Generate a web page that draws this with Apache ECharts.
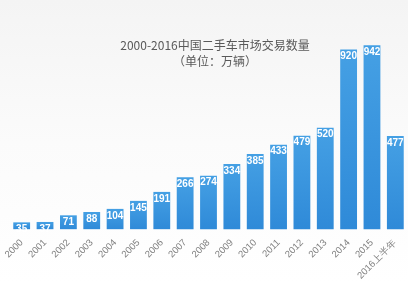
<!DOCTYPE html>
<html><head><meta charset="utf-8">
<script src="https://cdn.jsdelivr.net/npm/echarts@6/dist/echarts.min.js"></script>
<style>html,body{margin:0;padding:0;}#c{width:408px;height:283px;}</style>
</head><body><div id="c"></div>
<script>
const categories = ['2000','2001','2002','2003','2004','2005','2006','2007','2008','2009','2010','2011','2012','2013','2014','2015','2016上半年'];
const values = [35,37,71,88,104,145,191,266,274,334,385,433,479,520,920,942,477];
const titleText = '2000-2016中国二手车市场交易数量';
const subText = '（单位：万辆）';

const chart = echarts.init(document.getElementById('c'));
chart.setOption({
  backgroundColor: new echarts.graphic.LinearGradient(0,0,0,1,[
    {offset:0,color:'#f4f4f4'},{offset:0.5,color:'#fbfbfb'},{offset:1,color:'#ffffff'}]),
  title: {
    text: titleText, subtext: subText, left: 210, textAlign: 'center', top: 34, itemGap: 4,
    textStyle: {color:'#595959', fontSize: 12, fontWeight: 'normal', fontFamily: 'Noto Sans CJK SC'},
    subtextStyle: {color:'#595959', fontSize: 12, fontFamily: 'Noto Sans CJK SC'}
  },
  grid: {left: 10, right: 1, top: 34, bottom: 53},
  xAxis: {
    type: 'category', data: categories,
    axisLine: {show: false}, axisTick: {show: false},
    axisLabel: {rotate: 45, color: '#7f7f7f', fontSize: 9.5, margin: 12, interval: 0}
  },
  yAxis: {type: 'value', min: 0, max: 1000, show: false, splitLine: {show: false}},
  series: [{
    type: 'bar', data: values, barCategoryGap: '28%',
    itemStyle: {color: new echarts.graphic.LinearGradient(0,0,0,1,[
      {offset:0,color:'#45a0e4'},{offset:1,color:'#2f8ad8'}])},
    label: {show: true, position: 'insideTop', distance: 2, color: '#ffffff', fontWeight: 'bold', fontSize: 10}
  }]
});
</script></body></html>
